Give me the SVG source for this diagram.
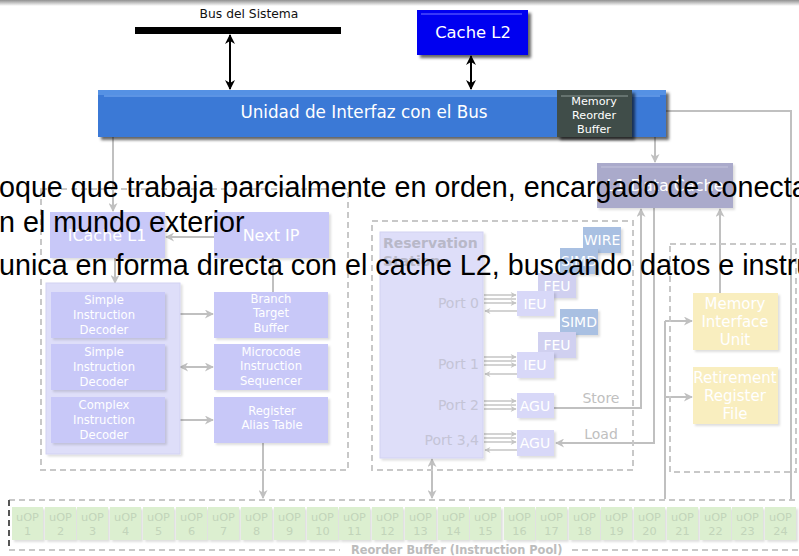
<svg xmlns="http://www.w3.org/2000/svg" width="799" height="556" viewBox="0 0 799 556">
<defs>
<style>
.t{font-family:"DejaVu Sans",sans-serif;text-anchor:middle;fill:#fff}
.ov{font-family:"Liberation Sans",Arial,sans-serif;font-size:28.7px;fill:#000}
.g{stroke:#c0c0c0;stroke-width:2;fill:none}
.gs{stroke:#c4c4c4;stroke-width:1.5;fill:none}
.d{stroke:#c8c8c8;stroke-width:2;fill:none;stroke-dasharray:6 4}
.lav{fill:#c8c8f8}
.lav2{fill:#dedef9}
.ieu{fill:#d8d8f8}
.feu{fill:#d0d0f0}
.sb{fill:#a9c0e2}
.yel{fill:#f9eebf}
.uop{fill:#dcefd0}
.ut{font-family:"DejaVu Sans",sans-serif;font-size:11.3px;text-anchor:middle;fill:#c2d4ba}
.pt{font-family:"DejaVu Sans",sans-serif;font-size:14px;text-anchor:end;fill:#c4c4d6}
.st{font-family:"DejaVu Sans",sans-serif;font-size:14px;text-anchor:middle;fill:#c0c0c0}
</style>
<linearGradient id="topg" x1="0" y1="0" x2="0" y2="1"><stop offset="0" stop-color="#909090"/><stop offset="1" stop-color="#ffffff"/></linearGradient>
<filter id="shd" x="-10%" y="-10%" width="130%" height="140%"><feDropShadow dx="3" dy="3" stdDeviation="1.5" flood-color="#000" flood-opacity="0.6"/></filter>
<filter id="shf" x="-10%" y="-10%" width="130%" height="140%"><feDropShadow dx="2" dy="2" stdDeviation="1.2" flood-color="#000" flood-opacity="0.13"/></filter>
<marker id="ag" viewBox="0 0 10 10" refX="9" refY="5" markerWidth="11" markerHeight="9" markerUnits="userSpaceOnUse" orient="auto-start-reverse"><path d="M0,0 L10,5 L0,10 L3,5z" fill="#c0c0c0"/></marker>
<marker id="as" viewBox="0 0 10 10" refX="9" refY="5" markerWidth="8" markerHeight="6" markerUnits="userSpaceOnUse" orient="auto-start-reverse"><path d="M0,0 L10,5 L0,10 L3,5z" fill="#c4c4c4"/></marker>
<marker id="ab" viewBox="0 0 10 10" refX="9" refY="5" markerWidth="12" markerHeight="10" markerUnits="userSpaceOnUse" orient="auto-start-reverse"><path d="M0,0 L10,5 L0,10 L3,5z" fill="#000"/></marker>
</defs>
<rect x="0" y="0" width="799" height="6" fill="url(#topg)"/>

<g id="connectors">
<line x1="230" y1="35" x2="230" y2="89" stroke="#000" stroke-width="2" marker-start="url(#ab)" marker-end="url(#ab)"/>
<line x1="471" y1="56" x2="471" y2="89" stroke="#000" stroke-width="2" marker-start="url(#ab)" marker-end="url(#ab)"/>
<polyline class="g" points="791,499 791,111 666,111"/>
<line x1="666" y1="111" x2="633" y2="111" stroke="#000" stroke-width="2" marker-end="url(#ab)"/>
<line class="g" x1="113" y1="137" x2="113" y2="211" marker-end="url(#ag)"/>
<line class="g" x1="655" y1="137" x2="655" y2="162" marker-end="url(#ag)"/>
<line class="g" x1="214" y1="237" x2="166" y2="237" marker-end="url(#ag)"/>
<line class="g" x1="115" y1="258" x2="115" y2="283" marker-end="url(#ag)"/>
<line class="g" x1="273" y1="258" x2="273" y2="292"/>
<polyline class="g" points="165,301 176,301 176,433 165,433"/>
<line class="g" x1="165" y1="367" x2="176" y2="367"/>
<line class="g" x1="176" y1="314" x2="213" y2="314" marker-end="url(#ag)"/>
<line class="g" x1="180" y1="367" x2="213" y2="367" marker-start="url(#ag)" marker-end="url(#ag)"/>
<line class="g" x1="176" y1="420" x2="213" y2="420" marker-end="url(#ag)"/>
<line class="g" x1="263" y1="443" x2="263" y2="498" marker-end="url(#ag)"/>
<line class="g" x1="432" y1="498" x2="432" y2="459" marker-start="url(#ag)" marker-end="url(#ag)"/>
<polyline class="g" points="554,408 641,408 641,209" marker-end="url(#ag)"/>
<polyline class="g" points="654,208 654,443 556,443" marker-end="url(#ag)"/>
<line class="g" x1="720" y1="293" x2="720" y2="209" marker-end="url(#ag)"/>
<line class="g" x1="665" y1="499" x2="665" y2="321"/>
<line class="g" x1="665" y1="321" x2="692" y2="321" marker-end="url(#ag)"/>
<line class="g" x1="665" y1="397" x2="692" y2="397" marker-end="url(#ag)"/>
<g>
<line class="gs" x1="484" y1="295" x2="516" y2="295" marker-end="url(#as)"/>
<line class="gs" x1="484" y1="299" x2="516" y2="299"/>
<line class="gs" x1="484" y1="303" x2="516" y2="303" marker-end="url(#as)"/>
<line class="gs" x1="517" y1="311" x2="485" y2="311" marker-end="url(#as)"/>
<line class="gs" x1="484" y1="357" x2="516" y2="357" marker-end="url(#as)"/>
<line class="gs" x1="484" y1="361" x2="516" y2="361"/>
<line class="gs" x1="484" y1="365" x2="516" y2="365" marker-end="url(#as)"/>
<line class="gs" x1="517" y1="374" x2="485" y2="374" marker-end="url(#as)"/>
<line class="gs" x1="484" y1="401" x2="516" y2="401" marker-end="url(#as)"/>
<line class="gs" x1="484" y1="405" x2="516" y2="405"/>
<line class="gs" x1="484" y1="409" x2="516" y2="409" marker-end="url(#as)"/>
<line class="gs" x1="484" y1="434" x2="516" y2="434" marker-end="url(#as)"/>
<line class="gs" x1="484" y1="438" x2="516" y2="438"/>
<line class="gs" x1="484" y1="442" x2="516" y2="442" marker-end="url(#as)"/>
<line class="gs" x1="517" y1="450" x2="485" y2="450" marker-end="url(#as)"/>
</g>
<text class="st" x="601" y="403">Store</text>
<text class="st" x="601" y="439">Load</text>
</g>

<g id="bus">
<text x="249" y="18" font-family="DejaVu Sans, sans-serif" font-size="12.3" text-anchor="middle" fill="#111">Bus del Sistema</text>
<rect x="135" y="27" width="206" height="7" fill="#000"/>
</g>
<g id="cachel2">
<rect x="417" y="10" width="111" height="45" fill="#0000f0" filter="url(#shd)"/>
<line x1="421" y1="14" x2="522" y2="14" stroke="#7070ff" stroke-width="1.2"/>
<text class="t" x="473" y="38" font-size="16.4">Cache L2</text>
</g>
<g id="biu">
<rect x="98" y="90" width="568" height="47" fill="#3b79d6" filter="url(#shd)"/>
<rect x="98" y="90" width="568" height="5" fill="#5591e4"/>
<line x1="104" y1="96" x2="660" y2="96" stroke="#7fb0f2" stroke-width="1"/>
<text class="t" x="364" y="118" font-size="16.8">Unidad de Interfaz con el Bus</text>
</g>
<g id="mrb">
<rect x="557" y="90" width="75" height="47" fill="#3f4e4a" filter="url(#shd)"/>
<line x1="561" y1="96" x2="628" y2="96" stroke="#8c9a96" stroke-width="1"/>
<text class="t" font-size="11.2"><tspan x="594" y="105">Memory</tspan><tspan x="594" y="119">Reorder</tspan><tspan x="594" y="133">Buffer</tspan></text>
</g>

<g id="frontend">
<rect class="d" x="41" y="189" width="307" height="281"/>
</g>
<g id="icache"><rect class="lav" x="50" y="212" width="115" height="46" filter="url(#shf)"/><text class="t" x="107" y="241" font-size="16">ICache L1</text></g>
<g id="nextip"><rect class="lav" x="214" y="212" width="115" height="46" filter="url(#shf)"/><text class="t" x="271" y="241" font-size="16">Next IP</text></g>
<g id="decoders"><rect class="lav2" x="46" y="283" width="134" height="171" stroke="#d2d2f2" stroke-width="1" filter="url(#shf)"/></g>
<g id="dec1"><rect class="lav" x="51" y="292" width="114" height="46" filter="url(#shf)"/><text class="t" font-size="11.6"><tspan x="104" y="304">Simple</tspan><tspan x="104" y="319">Instruction</tspan><tspan x="104" y="334">Decoder</tspan></text></g>
<g id="dec2"><rect class="lav" x="51" y="344" width="114" height="46" filter="url(#shf)"/><text class="t" font-size="11.6"><tspan x="104" y="356">Simple</tspan><tspan x="104" y="371">Instruction</tspan><tspan x="104" y="386">Decoder</tspan></text></g>
<g id="dec3"><rect class="lav" x="51" y="397" width="114" height="46" filter="url(#shf)"/><text class="t" font-size="11.6"><tspan x="104" y="409">Complex</tspan><tspan x="104" y="424">Instruction</tspan><tspan x="104" y="439">Decoder</tspan></text></g>
<g id="btb"><rect class="lav" x="214" y="292" width="114" height="46" filter="url(#shf)"/><text class="t" font-size="11.6"><tspan x="271" y="303">Branch</tspan><tspan x="271" y="317">Target</tspan><tspan x="271" y="332">Buffer</tspan></text></g>
<g id="mis"><rect class="lav" x="214" y="344" width="114" height="46" filter="url(#shf)"/><text class="t" font-size="11.6"><tspan x="271" y="356">Microcode</tspan><tspan x="271" y="370">Instruction</tspan><tspan x="271" y="385">Sequencer</tspan></text></g>
<g id="rat"><rect class="lav" x="214" y="397" width="114" height="46" filter="url(#shf)"/><text class="t" font-size="11.6"><tspan x="272" y="415">Register</tspan><tspan x="272" y="429">Alias Table</tspan></text></g>

<g id="execgroup"><rect class="d" x="372" y="221" width="261" height="249"/></g>
<g id="rs"><rect class="lav2" x="380" y="232" width="103" height="226" stroke="#d2d2f2" stroke-width="1" filter="url(#shf)"/>
<text x="383" y="248" font-family="DejaVu Sans, sans-serif" font-size="14" font-weight="bold" fill="#b8b8c8">Reservation</text>
<text x="383" y="266" font-family="DejaVu Sans, sans-serif" font-size="14" font-weight="bold" fill="#b8b8c8">Station</text>
<text class="pt" x="479" y="308">Port 0</text>
<text class="pt" x="479" y="369">Port 1</text>
<text class="pt" x="479" y="410">Port 2</text>
<text class="pt" x="479" y="445">Port 3,4</text>
</g>
<g id="wire"><rect class="sb" x="583" y="227" width="38" height="26" filter="url(#shf)"/><text class="t" x="602" y="245" font-size="14">WIRE</text></g>
<g id="simd1"><rect class="sb" x="560" y="248" width="38" height="26" filter="url(#shf)"/><text class="t" x="579" y="266" font-size="14">SIMD</text></g>
<g id="feu1"><rect class="feu" x="538" y="273" width="38" height="25" filter="url(#shf)"/><text class="t" x="557" y="291" font-size="14" fill="#c4c4e0">FEU</text></g>
<g id="ieu0"><rect class="ieu" x="517" y="291" width="37" height="25" filter="url(#shf)"/><text class="t" x="535" y="309" font-size="14" fill="#c0c0dc">IEU</text></g>
<g id="simd2"><rect class="sb" x="560" y="309" width="38" height="26" filter="url(#shf)"/><text class="t" x="579" y="327" font-size="14">SIMD</text></g>
<g id="feu2"><rect class="feu" x="538" y="332" width="38" height="26" filter="url(#shf)"/><text class="t" x="557" y="350" font-size="14" fill="#c4c4e0">FEU</text></g>
<g id="ieu1"><rect class="ieu" x="517" y="352" width="37" height="26" filter="url(#shf)"/><text class="t" x="535" y="370" font-size="14" fill="#c0c0dc">IEU</text></g>
<g id="agu2"><rect class="ieu" x="517" y="393" width="37" height="25" filter="url(#shf)"/><text class="t" x="535" y="411" font-size="14" fill="#c0c0dc">AGU</text></g>
<g id="agu34"><rect class="ieu" x="517" y="430" width="37" height="26" filter="url(#shf)"/><text class="t" x="535" y="448" font-size="14" fill="#c0c0dc">AGU</text></g>

<g id="dcache"><rect x="597" y="163" width="136" height="45" fill="#aaaacb" filter="url(#shf)"/><line x1="601" y1="167" x2="728" y2="167" stroke="#c4c4dc" stroke-width="1"/><text class="t" x="665" y="191" font-size="16" fill="#c8c8de">L1 Data Cache</text></g>

<g id="memgroup"><rect class="d" x="670" y="244" width="126" height="228"/></g>
<g id="miu"><rect class="yel" x="693" y="293" width="85" height="57" filter="url(#shf)"/><text class="t" font-size="15" fill="#ddd6b4"><tspan x="735" y="309">Memory</tspan><tspan x="735" y="327">Interface</tspan><tspan x="735" y="345">Unit</tspan></text></g>
<g id="rrf"><rect class="yel" x="693" y="367" width="85" height="57" filter="url(#shf)"/><text class="t" font-size="15" fill="#ddd6b4"><tspan x="735" y="383">Retirement</tspan><tspan x="735" y="401">Register</tspan><tspan x="735" y="419">File</tspan></text></g>

<g id="rob">
<path class="d" d="M9,500 H799 M9,550 H340 M572,550 H799"/>
<line x1="9" y1="500" x2="9" y2="550" stroke="#555" stroke-width="2" stroke-dasharray="6 4"/>
<text x="351" y="554" font-family="DejaVu Sans, sans-serif" font-size="11.4" font-weight="bold" fill="#bcbcbc">Reorder Buffer (Instruction Pool)</text>
<g filter="url(#shf)">
<rect class="uop" x="12" y="507" width="31" height="33"/><rect class="uop" x="45" y="507" width="31" height="33"/><rect class="uop" x="77" y="507" width="31" height="33"/><rect class="uop" x="110" y="507" width="31" height="33"/><rect class="uop" x="143" y="507" width="31" height="33"/><rect class="uop" x="176" y="507" width="31" height="33"/><rect class="uop" x="208" y="507" width="31" height="33"/><rect class="uop" x="241" y="507" width="31" height="33"/><rect class="uop" x="274" y="507" width="31" height="33"/><rect class="uop" x="307" y="507" width="31" height="33"/><rect class="uop" x="339" y="507" width="31" height="33"/><rect class="uop" x="372" y="507" width="31" height="33"/><rect class="uop" x="405" y="507" width="31" height="33"/><rect class="uop" x="438" y="507" width="31" height="33"/><rect class="uop" x="470" y="507" width="31" height="33"/><rect class="uop" x="504" y="507" width="31" height="33"/><rect class="uop" x="536" y="507" width="31" height="33"/><rect class="uop" x="569" y="507" width="31" height="33"/><rect class="uop" x="601" y="507" width="31" height="33"/><rect class="uop" x="634" y="507" width="31" height="33"/><rect class="uop" x="667" y="507" width="31" height="33"/><rect class="uop" x="700" y="507" width="31" height="33"/><rect class="uop" x="732" y="507" width="31" height="33"/><rect class="uop" x="765" y="507" width="31" height="33"/>
</g>
<text class="ut"><tspan x="27.5" y="521">uOP</tspan><tspan x="60.5" y="521">uOP</tspan><tspan x="92.5" y="521">uOP</tspan><tspan x="125.5" y="521">uOP</tspan><tspan x="158.5" y="521">uOP</tspan><tspan x="191.5" y="521">uOP</tspan><tspan x="223.5" y="521">uOP</tspan><tspan x="256.5" y="521">uOP</tspan><tspan x="289.5" y="521">uOP</tspan><tspan x="322.5" y="521">uOP</tspan><tspan x="354.5" y="521">uOP</tspan><tspan x="387.5" y="521">uOP</tspan><tspan x="420.5" y="521">uOP</tspan><tspan x="453.5" y="521">uOP</tspan><tspan x="485.5" y="521">uOP</tspan><tspan x="519.5" y="521">uOP</tspan><tspan x="551.5" y="521">uOP</tspan><tspan x="584.5" y="521">uOP</tspan><tspan x="616.5" y="521">uOP</tspan><tspan x="649.5" y="521">uOP</tspan><tspan x="682.5" y="521">uOP</tspan><tspan x="715.5" y="521">uOP</tspan><tspan x="747.5" y="521">uOP</tspan><tspan x="780.5" y="521">uOP</tspan></text>
<text class="ut"><tspan x="27.5" y="535">1</tspan><tspan x="60.5" y="535">2</tspan><tspan x="92.5" y="535">3</tspan><tspan x="125.5" y="535">4</tspan><tspan x="158.5" y="535">5</tspan><tspan x="191.5" y="535">6</tspan><tspan x="223.5" y="535">7</tspan><tspan x="256.5" y="535">8</tspan><tspan x="289.5" y="535">9</tspan><tspan x="322.5" y="535">10</tspan><tspan x="354.5" y="535">11</tspan><tspan x="387.5" y="535">12</tspan><tspan x="420.5" y="535">13</tspan><tspan x="453.5" y="535">14</tspan><tspan x="485.5" y="535">15</tspan><tspan x="519.5" y="535">16</tspan><tspan x="551.5" y="535">17</tspan><tspan x="584.5" y="535">18</tspan><tspan x="616.5" y="535">19</tspan><tspan x="649.5" y="535">20</tspan><tspan x="682.5" y="535">21</tspan><tspan x="715.5" y="535">22</tspan><tspan x="747.5" y="535">23</tspan><tspan x="780.5" y="535">24</tspan></text>
</g>

<g id="overlay">
<text class="ov" x="-1" y="197">oque que trabaja parcialmente en orden, encargado de conecta</text>
<text class="ov" x="-1" y="232">n el mundo exterior</text>
<text class="ov" x="-1" y="275">unica en forma directa con el cache L2, buscando datos e instru</text>
</g>
</svg>
